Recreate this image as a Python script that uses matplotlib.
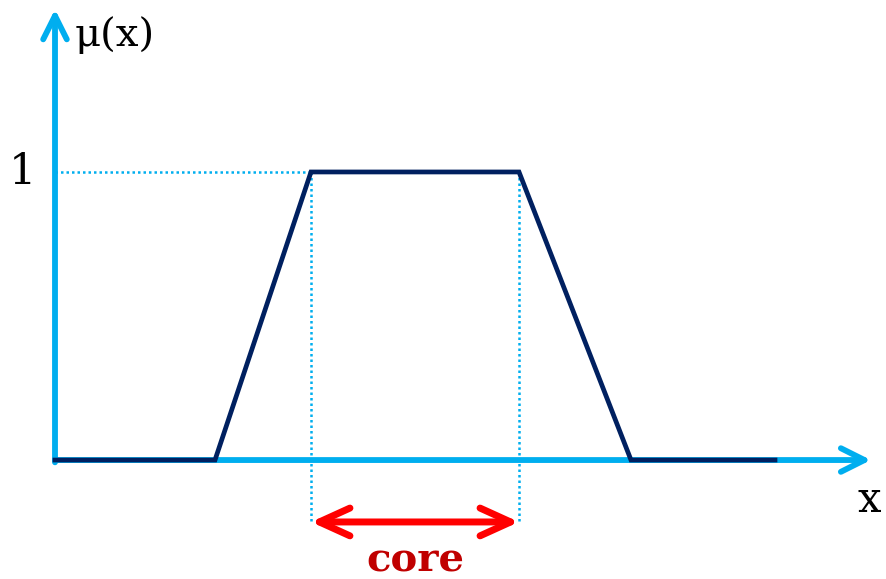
import matplotlib
matplotlib.use("Agg")
import matplotlib.pyplot as plt

# trapezoidal membership function
x_pts = [0, 2.0, 3.2, 5.8, 7.2, 9.0]
mu_pts = [0, 0, 1, 1, 0, 0]
core_lo, core_hi = 3.2, 5.8

BLUE = "#00AEEF"
NAVY = "#002060"
RED = "#FF0000"
DARKRED = "#C00000"

fig = plt.figure(figsize=(8.87, 5.79), dpi=100)
ax = fig.add_axes([0, 0, 1, 1])
ax.set_xlim(-0.6875, 10.4)
ax.set_ylim(-0.413, 1.597)
ax.axis("off")

# axes with arrows
axis_arrow = dict(arrowstyle="->,head_length=1.7,head_width=0.85",
                  color=BLUE, lw=4.2, capstyle="round", joinstyle="round",
                  shrinkA=0, shrinkB=0)
ax.annotate("", xy=(10.2, 0), xytext=(0, 0), arrowprops=axis_arrow)
ax.annotate("", xy=(0, 1.565), xytext=(0, -0.008), arrowprops=axis_arrow)

# guide lines
dots = dict(color=BLUE, lw=1.8, ls=(0, (1, 1.2)))
ax.plot([0, core_lo], [1, 1], **dots)
ax.plot([core_lo, core_lo], [1, -0.215], **dots)
ax.plot([core_hi, core_hi], [1, -0.215], **dots)

# membership function
ax.plot(x_pts, mu_pts, color=NAVY, lw=3.4, solid_joinstyle="miter", zorder=3)

# core arrow
ax.annotate("", xy=(core_hi, -0.215), xytext=(core_lo, -0.215),
            arrowprops=dict(arrowstyle="<->,head_length=2.2,head_width=1.0",
                            color=RED, lw=5, capstyle="round", joinstyle="round",
                            shrinkA=0, shrinkB=0))

# labels
ax.text(0.25, 1.475, "\u03bc(x)", fontsize=29, family="DejaVu Serif", va="center", ha="left")
ax.text(-0.24, 1.0, "1", fontsize=31, family="DejaVu Serif", va="center", ha="right")
ax.text(10.18, -0.14, "x", fontsize=30, family="DejaVu Serif", va="center", ha="center")
ax.text((core_lo + core_hi) / 2, -0.35, "core", fontsize=29, family="DejaVu Serif",
        fontweight="bold", color=DARKRED, va="center", ha="center")

fig.savefig("out.png", dpi=100)
